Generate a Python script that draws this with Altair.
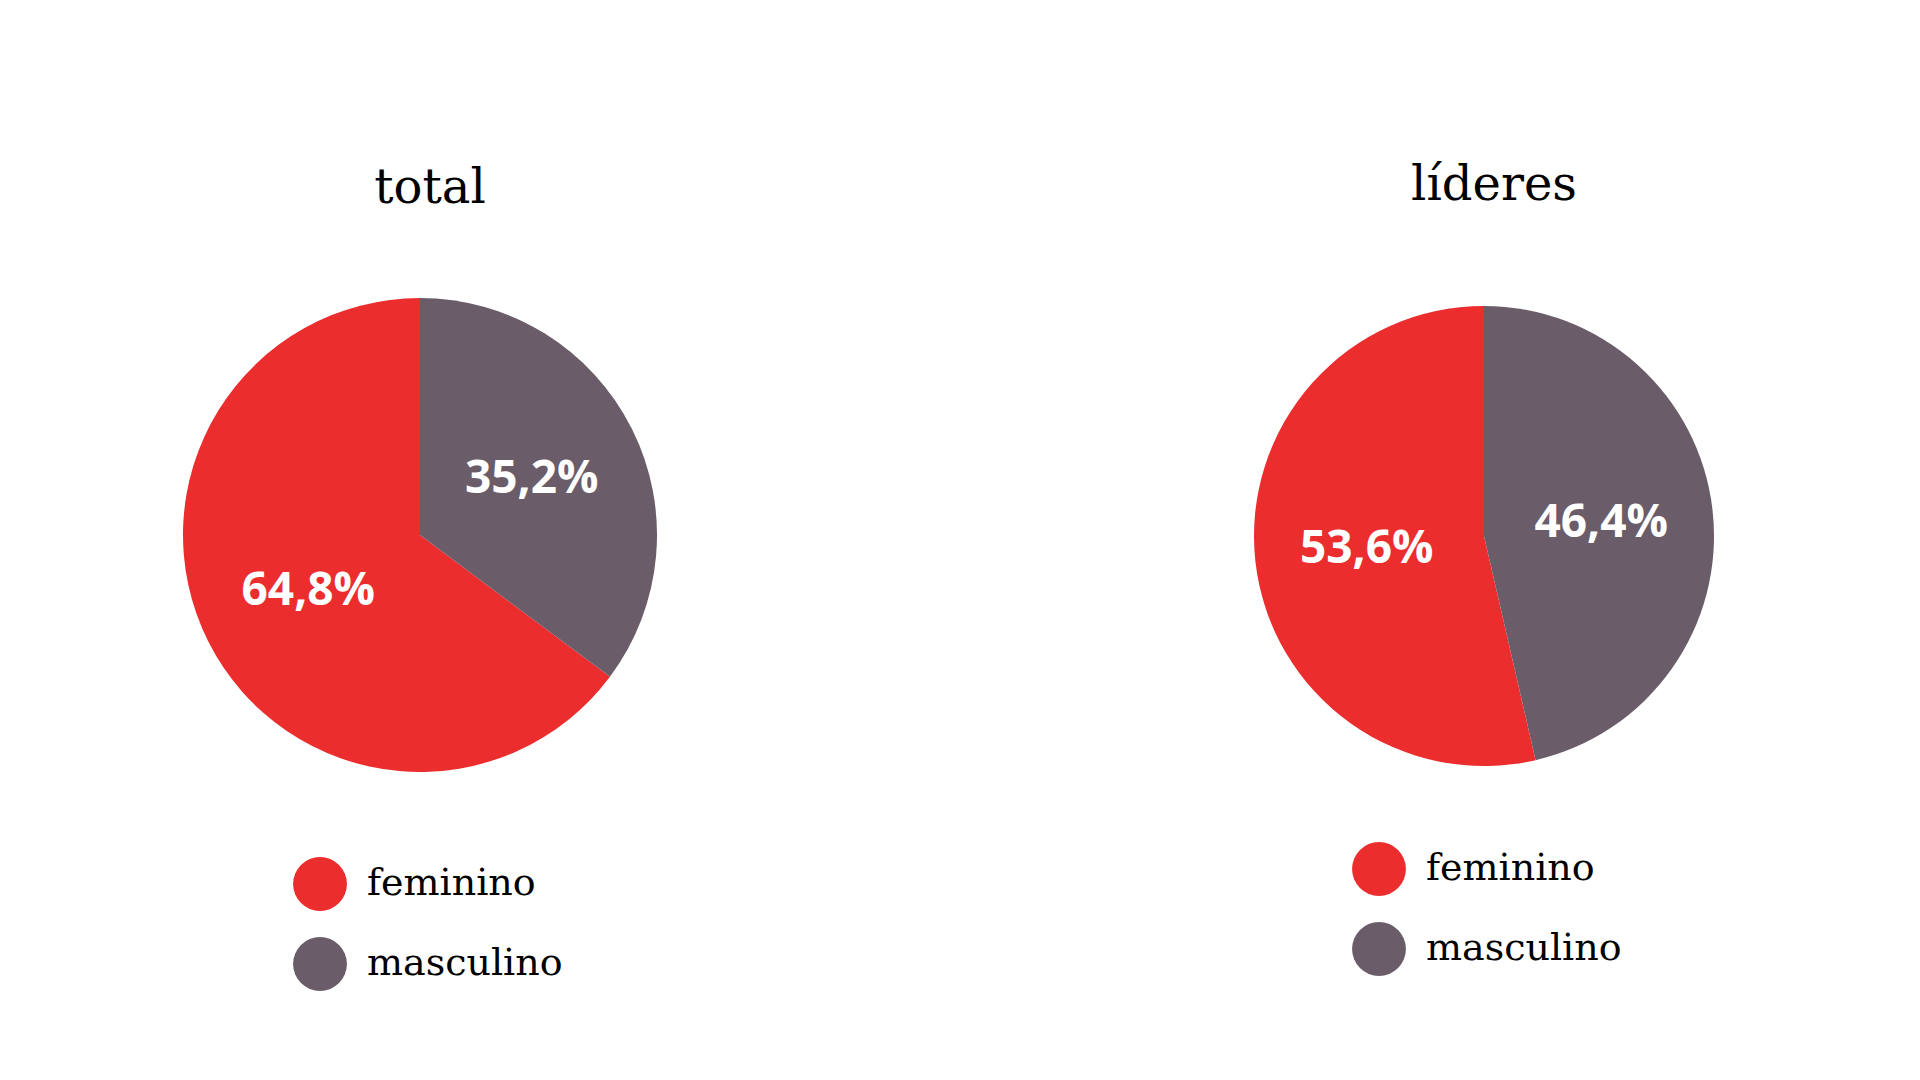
import altair as alt
import pandas as pd

# ---- data ----
generos = ["feminino", "masculino"]
total_pct = [64.8, 35.2]
lideres_pct = [53.6, 46.4]
total_labels = ["64,8%", "35,2%"]
lideres_labels = ["53,6%", "46,4%"]
painel_titulos = ["total", "líderes"]

cores = ["#EC2D2E", "#6A5C69"]

df_total = pd.DataFrame({"genero": generos, "pct": total_pct, "rotulo": total_labels})
df_lideres = pd.DataFrame({"genero": generos, "pct": lideres_pct, "rotulo": lideres_labels})

SERIF = "DejaVu Serif"


def pie(df, cx, cy, r, legend_x, legend_y, label_r, titulo, title_y):
    color_scale = alt.Scale(domain=generos, range=cores)
    legend = alt.Legend(
        orient="none", legendX=legend_x, legendY=legend_y, title=None,
        symbolType="circle", symbolSize=2900, symbolStrokeWidth=0, symbolOpacity=1,
        labelFont=SERIF, labelFontSize=38, labelColor="black", labelOffset=20,
        labelLimit=500, rowPadding=26, padding=0,
    )
    base = alt.Chart(df)
    arc = base.mark_arc(outerRadius=r, stroke=None).encode(
        theta=alt.Theta("pct:Q", stack=True),
        color=alt.Color("genero:N", scale=color_scale, legend=legend),
        order=alt.Order("genero:N", sort="descending"),
        x=alt.value(cx), y=alt.value(cy),
    )
    txt = base.mark_text(
        radius=label_r, color="white", font="Open Sans", fontWeight="bold", fontSize=46,
        align="center", baseline="middle",
    ).encode(
        theta=alt.Theta("pct:Q", stack=True),
        detail="genero:N",
        order=alt.Order("genero:N", sort="descending"),
        text="rotulo:N",
        x=alt.value(cx), y=alt.value(cy),
    )
    title = alt.Chart(pd.DataFrame({"t": [titulo]})).mark_text(
        font=SERIF, fontSize=48, color="black", align="center", baseline="alphabetic",
    ).encode(text="t:N", x=alt.value(cx + 10), y=alt.value(title_y))
    return alt.layer(arc, txt, title)


left = pie(df_total, 412, 527, 237, 285, 849, 125, painel_titulos[0], 195)
right = pie(df_lideres, 1476, 528, 230, 1344, 834, 118, painel_titulos[1], 192)

chart = alt.layer(left, right).resolve_scale(
    color="independent", theta="independent"
).properties(
    width=1904, height=1064, autosize="none", padding=0, background="white"
).configure_view(stroke=None)

chart.save("out.html", embed_options={"renderer": "svg", "actions": False})
